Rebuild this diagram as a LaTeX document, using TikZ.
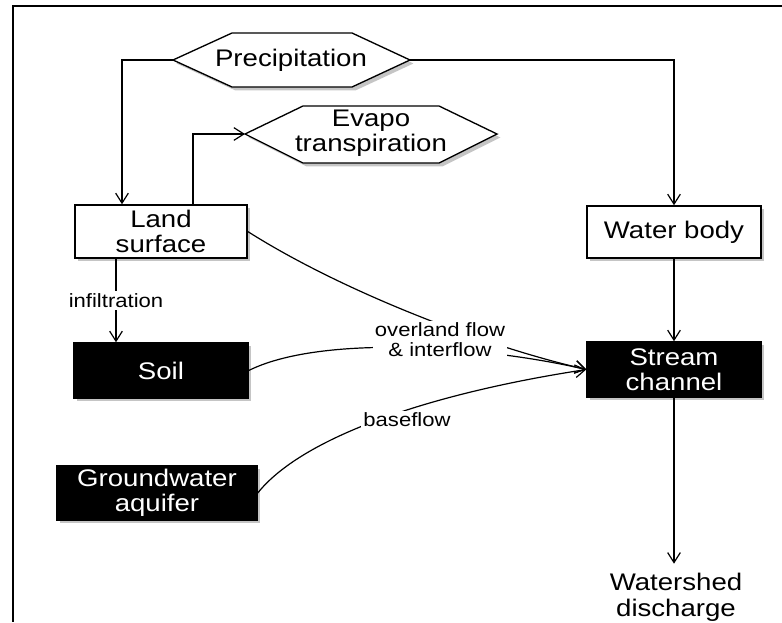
\documentclass[tikz,border=0pt]{standalone}
\usepackage{fontspec}
\setmainfont{Liberation Sans}[FakeStretch=1.15]
\usetikzlibrary{arrows.meta,shadows,calc}
\newcommand\mybig{\fontsize{18}{19}\selectfont}
\newcommand\mysmall{\fontsize{14.4}{15}\selectfont}
\begin{document}
\begin{tikzpicture}[x=0.75pt,y=-0.75pt,
  shd/.style={drop shadow={shadow xshift=2.6pt,shadow yshift=-2.6pt,fill=black!45}},
  wbox/.style={draw=black,line width=1.1pt,fill=white,shd,inner sep=0pt,align=center,font=\mybig},
  bbox/.style={wbox,fill=black,text=white},
  hexa/.style={draw=black,line width=1pt,fill=white,shd,line join=miter},
  txt/.style={inner sep=0pt,align=center,font=\mybig},
  lab/.style={fill=white,inner sep=1.5pt,align=center,font=\mysmall},
  arr/.style={line width=0.9pt,-{Straight Barb[length=7.5pt,width=9.5pt,line width=0.9pt]}}]
\useasboundingbox (0,0) rectangle (782,622);
\draw[line width=1.5pt] (782,6) -- (13,6) -- (13,622);
% hexagons
\draw[hexa] (173,60) -- (232,33) -- (352,33) -- (410,60) -- (352,87) -- (232,87) -- cycle;
\coordinate (precL) at (173,60);
\coordinate (precR) at (410,60);
\node[txt] (prec) at (291,60) {Precipitation};
\draw[hexa] (245,134) -- (303,106) -- (439,106) -- (497,134) -- (439,163) -- (303,163) -- cycle;
\coordinate (evapL) at (245,134);
\node[txt] (evap) at (371,133) {Evapo\\transpiration};
% boxes
\node[wbox,minimum width=129pt,minimum height=39.75pt] (land) at (161,231.5) {Land\\surface};
\node[wbox,minimum width=130.5pt,minimum height=39pt] (water) at (674,232) {Water body};
\node[bbox,minimum width=130.5pt,minimum height=41.25pt] (soil) at (161,370.5) {Soil};
\node[bbox,minimum width=130.5pt,minimum height=41.25pt] (stream) at (674,369.5) {Stream\\channel};
\node[bbox,minimum width=150pt,minimum height=40.5pt] (gw) at (157,493) {Groundwater\\aquifer};
\node[txt,anchor=north] (wat) at (676,573) {Watershed\\discharge};
% connectors
\coordinate (landIn) at ($(land.north)+(-39,0)$);
\coordinate (landOut) at ($(land.north)+(32,0)$);
\coordinate (infA) at ($(land.south)+(-45,0)$);
\draw[arr] (precL) -| (landIn);
\draw[arr] (landOut) |- (evapL);
\draw[arr] (precR) -| (water.north);
\draw[arr] (water) -- (stream);
\draw[arr] (infA) -- (infA |- soil.north) node[lab,midway] (inf) {infiltration};
\draw[arr] (stream.south) -- ([yshift=7pt]stream.south |- wat.north);
\draw[arr] (land.east) .. controls (340,290) and (480,345) .. (stream.west);
\draw[arr] (soil.east) .. controls (320,335) and (480,345) .. (stream.west);
\draw[arr] (gw.east) .. controls (300,440) and (420,395) .. (stream.west);
\node[lab] (ovl) at (440,340) {overland flow\\\& interflow};
\node[lab] (bfl) at (407,420) {baseflow};
\end{tikzpicture}
\end{document}
